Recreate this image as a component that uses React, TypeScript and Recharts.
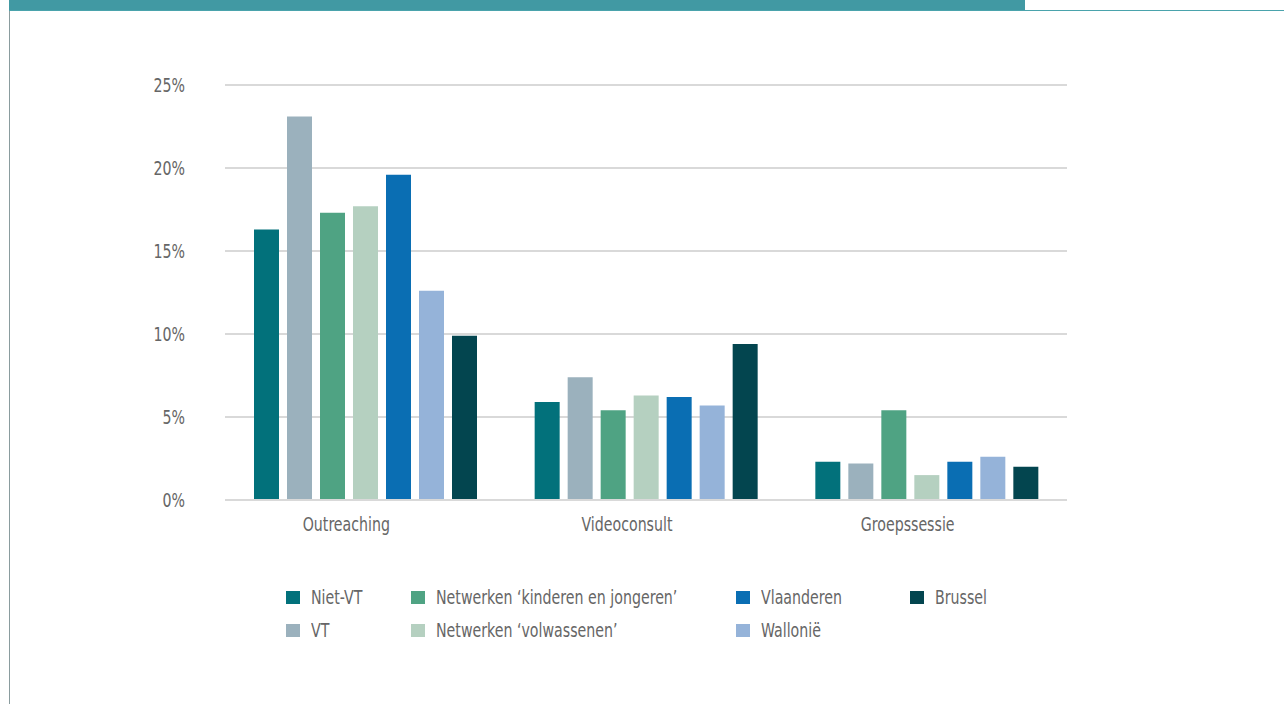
import { Bar, BarChart, CartesianGrid, XAxis, YAxis } from "recharts";

const categories = ["Outreaching", "Videoconsult", "Groepssessie"];
const nietVT = [16.3, 5.9, 2.3];
const vt = [23.1, 7.4, 2.2];
const netwerkenKJ = [17.3, 5.4, 5.4];
const netwerkenVolw = [17.7, 6.3, 1.5];
const vlaanderen = [19.6, 6.2, 2.3];
const wallonie = [12.6, 5.7, 2.6];
const brussel = [9.9, 9.4, 2.0];
const yTicks = [0, 5, 10, 15, 20, 25];

const series = [
  { key: "nietVT", name: "Niet-VT", values: nietVT, color: "#02717b" },
  { key: "vt", name: "VT", values: vt, color: "#9bb1bd" },
  { key: "netwerkenKJ", name: "Netwerken \u2018kinderen en jongeren\u2019", values: netwerkenKJ, color: "#4fa383" },
  { key: "netwerkenVolw", name: "Netwerken \u2018volwassenen\u2019", values: netwerkenVolw, color: "#b5d0c0" },
  { key: "vlaanderen", name: "Vlaanderen", values: vlaanderen, color: "#0a6eb3" },
  { key: "wallonie", name: "Walloni\u00eb", values: wallonie, color: "#95b3d9" },
  { key: "brussel", name: "Brussel", values: brussel, color: "#03454f" },
];

const data = categories.map((label, i) => {
  const row: Record<string, string | number> = { label };
  series.forEach((s) => (row[s.key] = s.values[i]));
  return row;
});

const font = "'DejaVu Sans Condensed', 'DejaVu Sans', sans-serif";
const textColor = "#666666";
const squeeze = 0.83; // no narrow font available, so squeeze the condensed one

// legend is laid out column by column, two rows
const legendCols = [286, 411, 736, 910];
const legendRows = [597, 630];

function XTick({ x, y, payload }: any) {
  return (
    <g transform={`translate(${x - 19},${y}) scale(${squeeze},1)`}>
      <text x={0} y={0} dy="0.71em" textAnchor="middle" fill={textColor} fontSize={19} fontFamily={font}>
        {payload.value}
      </text>
    </g>
  );
}

function YTick({ x, y, payload }: any) {
  return (
    <g transform={`translate(${x},${y}) scale(${squeeze},1)`}>
      <text x={0} y={0} dy="0.355em" textAnchor="end" fill={textColor} fontSize={19} fontFamily={font}>
        {`${payload.value}%`}
      </text>
    </g>
  );
}

export default function App() {
  return (
    <div style={{ position: "absolute", left: 0, top: 0, width: 1284, height: 704, background: "#fff", fontFamily: font, overflow: "hidden" }}>
      <div style={{ position: "absolute", left: 9, top: 0, width: 1016, height: 10, background: "#4199a3" }} />
      <div style={{ position: "absolute", left: 9, top: 10, width: 1275, height: 1, background: "#4aa3ac" }} />
      <div style={{ position: "absolute", left: 9, top: 11, width: 1, height: 693, background: "#8a9c9e" }} />

      <BarChart width={1284} height={704} data={data} margin={{ top: 85, right: 217, bottom: 174, left: 165 }} barSize={25} barGap={8}>
        <CartesianGrid vertical={false} stroke="#d9d9d9" strokeWidth={2} />
        <XAxis
          dataKey="label"
          axisLine={{ stroke: "#d9d9d9", strokeWidth: 2 }}
          tickLine={false}
          tickSize={0}
          tickMargin={17}
          height={30}
          tick={<XTick />}
        />
        <YAxis
          domain={[0, 25]}
          ticks={yTicks}
          axisLine={false}
          tickLine={false}
          tickSize={0}
          tickMargin={40}
          width={60}
          tick={<YTick />}
        />
        {series.map((s) => (
          <Bar key={s.key} dataKey={s.key} name={s.name} fill={s.color} isAnimationActive={false} />
        ))}
      </BarChart>

      {series.map((s, i) => {
        const col = Math.floor(i / 2);
        const row = i % 2;
        return (
          <div key={s.key} style={{ position: "absolute", left: legendCols[col], top: legendRows[row] - 12, height: 24, display: "flex", alignItems: "center", whiteSpace: "nowrap" }}>
            <div style={{ width: 14, height: 13, background: s.color, marginRight: 11, flex: "none" }} />
            <span style={{ display: "inline-block", fontSize: 19, color: textColor, transform: `scaleX(${squeeze})`, transformOrigin: "left center" }}>{s.name}</span>
          </div>
        );
      })}
    </div>
  );
}
